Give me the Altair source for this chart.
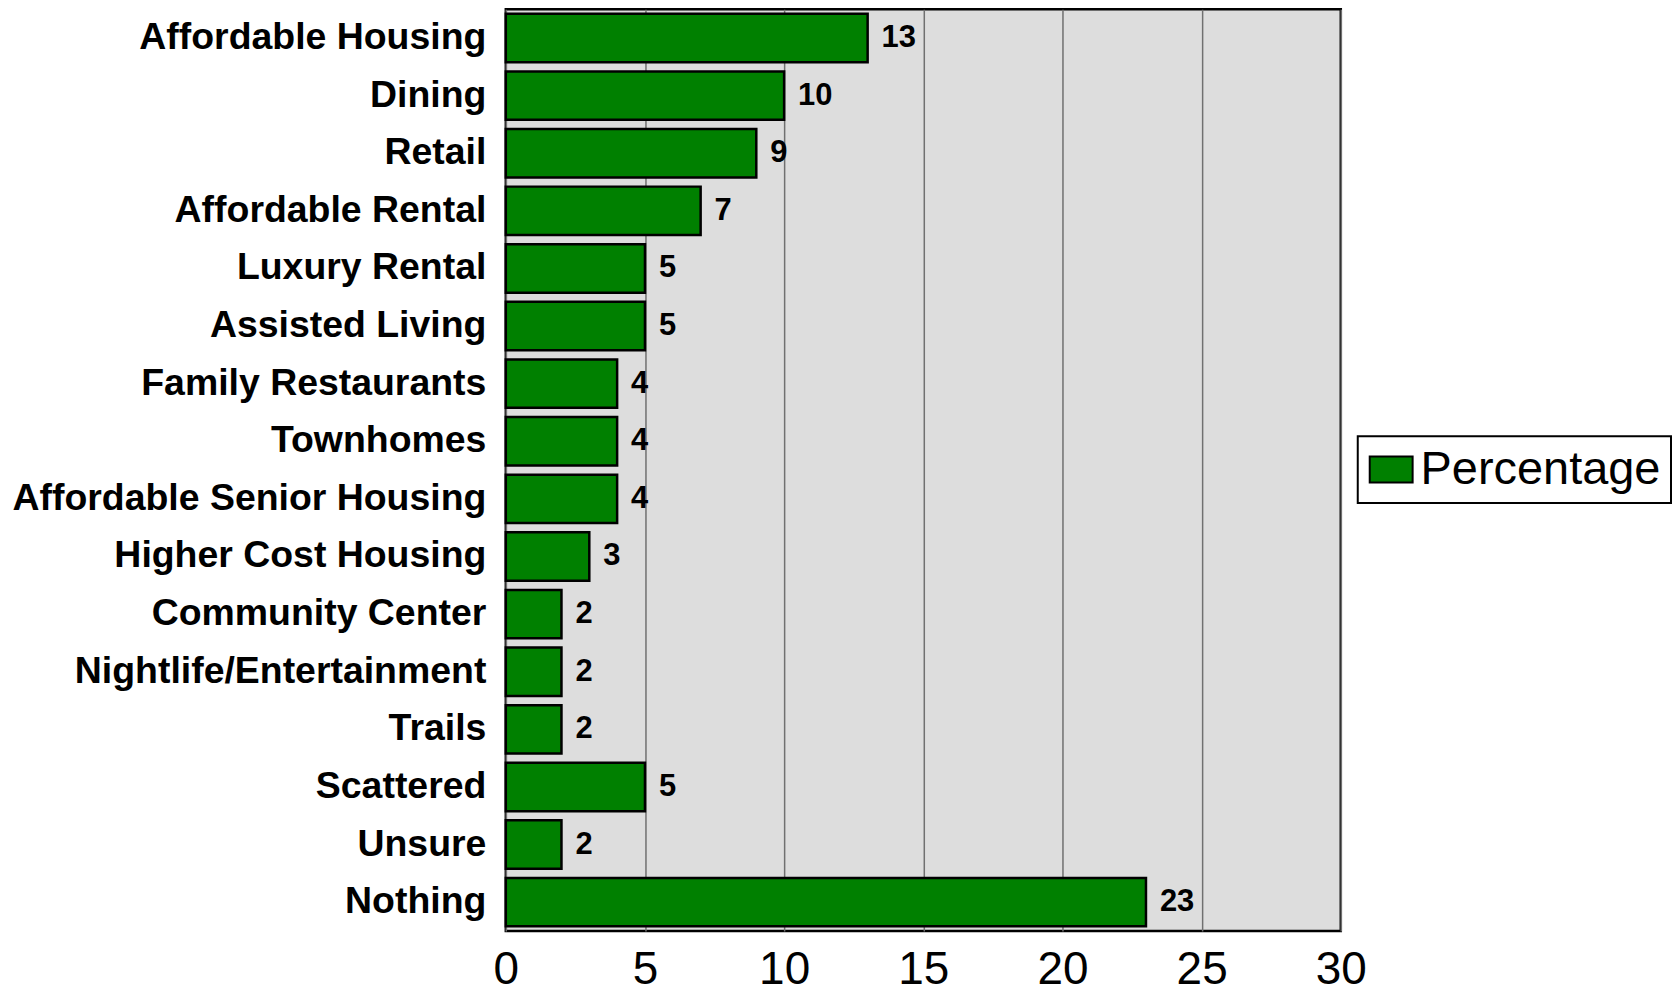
import altair as alt
import pandas as pd

categories = [
    "Affordable Housing", "Dining", "Retail", "Affordable Rental",
    "Luxury Rental", "Assisted Living", "Family Restaurants", "Townhomes",
    "Affordable Senior Housing", "Higher Cost Housing", "Community Center",
    "Nightlife/Entertainment", "Trails", "Scattered", "Unsure", "Nothing",
]
values = [13, 10, 9, 7, 5, 5, 4, 4, 4, 3, 2, 2, 2, 5, 2, 23]
series = ["Percentage"] * len(categories)
x_ticks = [0, 5, 10, 15, 20, 25, 30]

df = pd.DataFrame({"category": categories, "value": values, "series": series})

y_enc = alt.Y(
    "category:N",
    sort=categories,
    scale=alt.Scale(paddingInner=0.16, paddingOuter=0.08),
    axis=alt.Axis(
        title=None,
        labelFont="Liberation Sans",
        labelFontWeight="bold",
        labelFontSize=37.5,
        labelColor="black",
        labelPadding=20,
        labelLimit=600,
        ticks=False,
        domain=False,
    ),
)
x_enc = alt.X(
    "value:Q",
    scale=alt.Scale(domain=[0, 30], nice=False),
    axis=alt.Axis(
        title=None,
        values=x_ticks,
        labelFont="Liberation Sans",
        labelFontSize=46,
        labelColor="black",
        labelPadding=17,
        labelFlush=False,
        labelOverlap=False,
        ticks=False,
        domain=False,
        grid=True,
        gridColor="#707070",
        gridWidth=1.5,
    ),
)

bars = alt.Chart(df).mark_bar(stroke="black", strokeWidth=2.5).encode(
    x=x_enc,
    y=y_enc,
    color=alt.Color(
        "series:N",
        scale=alt.Scale(range=["#008000"]),
        legend=alt.Legend(
            title=None,
            orient="none",
            legendX=854,
            legendY=428,
            labelFont="Liberation Sans",
            labelFontSize=47,
            labelColor="black",
            labelOffset=6,
            labelLimit=500,
            symbolType="M-1,-0.605L1,-0.605L1,0.605L-1,0.605Z",
            symbolSize=1849,
            symbolStrokeColor="black",
            symbolStrokeWidth=2,
            padding=10,
            strokeColor="black",
            fillColor="white",
        ),
    ),
)

labels = alt.Chart(df).mark_text(
    align="left", baseline="middle", dx=14,
    font="Liberation Sans", fontWeight="bold", fontSize=31, color="black",
).encode(
    x=alt.X("value:Q"),
    y=alt.Y("category:N", sort=categories),
    text=alt.Text("value:Q"),
)

chart = (
    alt.layer(bars, labels)
    .properties(width=837, height=924,
                padding={"left": 3, "top": 0, "right": 0, "bottom": 0})
    .configure_view(fill="#DDDDDD", stroke="black", strokeWidth=2.5)
    .configure_legend(strokeWidth=2)
)

chart.save("out.html", embed_options={"renderer": "svg", "actions": False})
